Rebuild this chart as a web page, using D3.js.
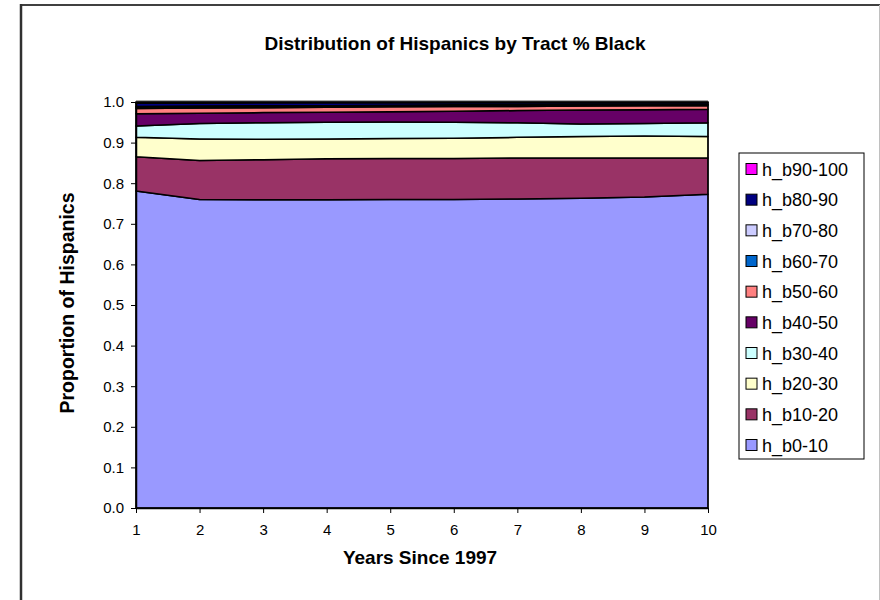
<!DOCTYPE html>
<html><head><meta charset="utf-8">
<script src="https://cdn.jsdelivr.net/npm/d3@7"></script>
<style>body{margin:0;background:#fff;} svg{display:block;font-family:Arial,"Liberation Sans",sans-serif;}</style>
</head><body>
<svg id="c" width="880" height="600"></svg>
<script>
const years = [1,2,3,4,5,6,7,8,9,10];
const seriesNames = ["h_b0-10","h_b10-20","h_b20-30","h_b30-40","h_b40-50","h_b50-60","h_b60-70","h_b70-80","h_b80-90","h_b90-100"];
const seriesColors = ["#9999FF","#993366","#FFFFCC","#CCFFFF","#660066","#FF8080","#0066CC","#CCCCFF","#000080","#FF00FF"];
const h_b0_10   = [0.781,0.760,0.759,0.759,0.760,0.760,0.761,0.763,0.766,0.773];
const h_b10_20  = [0.084,0.096,0.099,0.101,0.101,0.101,0.101,0.099,0.096,0.089];
const h_b20_30  = [0.048,0.053,0.050,0.049,0.049,0.050,0.051,0.053,0.054,0.053];
const h_b30_40  = [0.028,0.038,0.041,0.041,0.041,0.039,0.036,0.031,0.031,0.034];
const h_b40_50  = [0.030,0.025,0.025,0.025,0.025,0.027,0.030,0.034,0.034,0.033];
const h_b50_60  = [0.013,0.013,0.012,0.012,0.012,0.012,0.010,0.010,0.010,0.009];
const h_b60_70  = [0.003,0.003,0.003,0.002,0.002,0.002,0.002,0.002,0.002,0.002];
const h_b70_80  = [0.002,0.002,0.002,0.002,0.002,0.002,0.002,0.002,0.001,0.001];
const h_b80_90  = [0.008,0.007,0.007,0.007,0.006,0.005,0.005,0.004,0.004,0.004];
const h_b90_100 = [0.003,0.003,0.002,0.002,0.002,0.002,0.002,0.002,0.002,0.002];
const yTicks = [0,0.1,0.2,0.3,0.4,0.5,0.6,0.7,0.8,0.9,1.0];
const titleText = "Distribution of Hispanics by Tract % Black";
const xTitle = "Years Since 1997";
const yTitle = "Proportion of Hispanics";

const seriesValues = [h_b0_10,h_b10_20,h_b20_30,h_b30_40,h_b40_50,h_b50_60,h_b60_70,h_b70_80,h_b80_90,h_b90_100];
const table = years.map((yr,i)=>{const o={year:yr}; seriesNames.forEach((n,j)=>o[n]=seriesValues[j][i]); return o;});

const svg = d3.select("#c");
// outer frame
svg.append("line").attr("x1",20).attr("x2",880).attr("y1",5).attr("y2",5).attr("stroke","#404040").attr("stroke-width",2);
svg.append("line").attr("x1",21).attr("x2",21).attr("y1",4).attr("y2",600).attr("stroke","#303030").attr("stroke-width",2.5);
svg.append("line").attr("x1",879.5).attr("x2",879.5).attr("y1",5).attr("y2",600).attr("stroke","#c0c0c0").attr("stroke-width",1);

const L=136,R=708,T=102,B=508;
const x = d3.scaleLinear().domain([1,10]).range([L,R]);
const y = d3.scaleLinear().domain([0,1]).range([B,T]);

const stack = d3.stack().keys(seriesNames).order(d3.stackOrderNone).offset(d3.stackOffsetNone);
const layers = stack(table);
const area = d3.area().x(d=>x(d.data.year)).y0(d=>y(d[0])).y1(d=>y(Math.min(1,d[1])));

const g = svg.append("g");
g.selectAll("path.layer").data(layers).join("path").attr("class","layer")
  .attr("d",area).attr("fill",(d,i)=>seriesColors[i]).attr("stroke","#000").attr("stroke-width",1.5).attr("stroke-linejoin","round");

svg.append("rect").attr("x",L).attr("y",T).attr("width",R-L).attr("height",B-T).attr("fill","none").attr("stroke","#000").attr("stroke-width",1);
svg.append("line").attr("x1",L).attr("x2",R).attr("y1",T-1.5).attr("y2",T-1.5).attr("stroke","#aaa").attr("stroke-width",1);

// axes
const yAxis = d3.axisLeft(y).tickValues(yTicks).tickFormat(d3.format(".1f")).tickSize(5).tickSizeOuter(0);
const ya = svg.append("g").attr("transform",`translate(${L},0)`).call(yAxis);
ya.attr("font-size",15);
ya.select(".domain").attr("stroke","#000").attr("stroke-width",1.5);
ya.selectAll("text").attr("font-size",15).attr("fill","#000").attr("font-family","Arial, Liberation Sans, sans-serif").attr("x",-12);

const xAxis = d3.axisBottom(x).tickValues(years).tickFormat(d3.format("d")).tickSize(5).tickSizeOuter(0);
const xa = svg.append("g").attr("transform",`translate(0,${B})`).call(xAxis);
xa.attr("font-size",15);
xa.select(".domain").attr("stroke","#000").attr("stroke-width",1.5);
xa.selectAll("text").attr("font-size",15).attr("fill","#000").attr("font-family","Arial, Liberation Sans, sans-serif").attr("y",16);

// titles
svg.append("text").attr("x",455).attr("y",50).attr("text-anchor","middle").attr("font-size",19).attr("font-weight","bold").text(titleText);
svg.append("text").attr("x",420).attr("y",564).attr("text-anchor","middle").attr("font-size",19).attr("font-weight","bold").text(xTitle);
svg.append("text").attr("transform","translate(74,303) rotate(-90)").attr("text-anchor","middle").attr("font-size",19.5).attr("font-weight","bold").text(yTitle);

// legend
const lg = svg.append("g");
lg.append("rect").attr("x",739).attr("y",153).attr("width",125).attr("height",306).attr("fill","#fff").attr("stroke","#000").attr("stroke-width",1);
const legendOrder = seriesNames.map((n,i)=>i).reverse();
const ly = d3.scalePoint().domain(legendOrder).range([169,445]);
legendOrder.forEach(i=>{
  lg.append("rect").attr("x",746).attr("y",ly(i)-5.5).attr("width",11).attr("height",11).attr("fill",seriesColors[i]).attr("stroke","#000").attr("stroke-width",1);
  lg.append("text").attr("x",762).attr("y",ly(i)+6.5).attr("font-size",18).attr("fill","#000").text(seriesNames[i]);
});
</script>
</body></html>
